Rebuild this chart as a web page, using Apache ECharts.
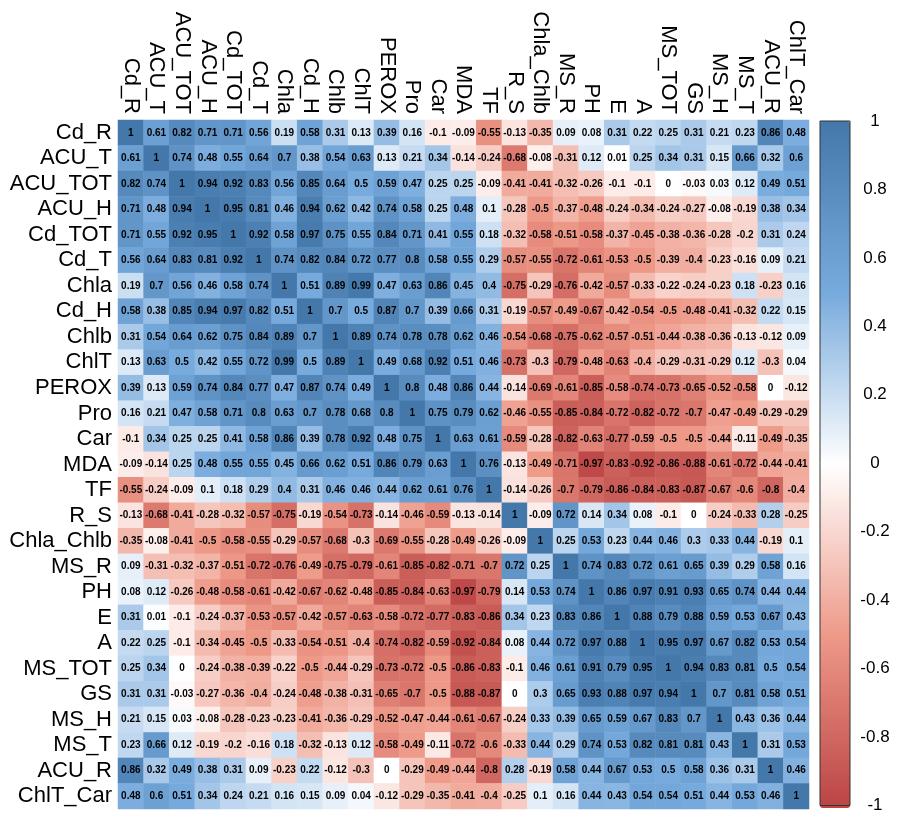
<!DOCTYPE html>
<html>
<head>
<meta charset="utf-8">
<script src="https://cdn.jsdelivr.net/npm/echarts@6/dist/echarts.min.js"></script>
<style>
  html, body { margin: 0; padding: 0; background: #fff; }
  #chart { width: 897px; height: 814px; }
</style>
</head>
<body>
<div id="chart"></div>
<script>
// Variable names (rows and columns share the same order)
const variables = ['Cd_R', 'ACU_T', 'ACU_TOT', 'ACU_H', 'Cd_TOT', 'Cd_T', 'Chla', 'Cd_H', 'Chlb', 'ChlT',
  'PEROX', 'Pro', 'Car', 'MDA', 'TF', 'R_S', 'Chla_Chlb', 'MS_R', 'PH', 'E', 'A', 'MS_TOT', 'GS',
  'MS_H', 'MS_T', 'ACU_R', 'ChlT_Car'];

// Correlation coefficients, one row per variable
const rowCdR     = [1, 0.61, 0.82, 0.71, 0.71, 0.56, 0.19, 0.58, 0.31, 0.13, 0.39, 0.16, -0.1, -0.09, -0.55, -0.13, -0.35, 0.09, 0.08, 0.31, 0.22, 0.25, 0.31, 0.21, 0.23, 0.86, 0.48];
const rowAcuT    = [0.61, 1, 0.74, 0.48, 0.55, 0.64, 0.7, 0.38, 0.54, 0.63, 0.13, 0.21, 0.34, -0.14, -0.24, -0.68, -0.08, -0.31, 0.12, 0.01, 0.25, 0.34, 0.31, 0.15, 0.66, 0.32, 0.6];
const rowAcuTot  = [0.82, 0.74, 1, 0.94, 0.92, 0.83, 0.56, 0.85, 0.64, 0.5, 0.59, 0.47, 0.25, 0.25, -0.09, -0.41, -0.41, -0.32, -0.26, -0.1, -0.1, 0, -0.03, 0.03, 0.12, 0.49, 0.51];
const rowAcuH    = [0.71, 0.48, 0.94, 1, 0.95, 0.81, 0.46, 0.94, 0.62, 0.42, 0.74, 0.58, 0.25, 0.48, 0.1, -0.28, -0.5, -0.37, -0.48, -0.24, -0.34, -0.24, -0.27, -0.08, -0.19, 0.38, 0.34];
const rowCdTot   = [0.71, 0.55, 0.92, 0.95, 1, 0.92, 0.58, 0.97, 0.75, 0.55, 0.84, 0.71, 0.41, 0.55, 0.18, -0.32, -0.58, -0.51, -0.58, -0.37, -0.45, -0.38, -0.36, -0.28, -0.2, 0.31, 0.24];
const rowCdT     = [0.56, 0.64, 0.83, 0.81, 0.92, 1, 0.74, 0.82, 0.84, 0.72, 0.77, 0.8, 0.58, 0.55, 0.29, -0.57, -0.55, -0.72, -0.61, -0.53, -0.5, -0.39, -0.4, -0.23, -0.16, 0.09, 0.21];
const rowChla    = [0.19, 0.7, 0.56, 0.46, 0.58, 0.74, 1, 0.51, 0.89, 0.99, 0.47, 0.63, 0.86, 0.45, 0.4, -0.75, -0.29, -0.76, -0.42, -0.57, -0.33, -0.22, -0.24, -0.23, 0.18, -0.23, 0.16];
const rowCdH     = [0.58, 0.38, 0.85, 0.94, 0.97, 0.82, 0.51, 1, 0.7, 0.5, 0.87, 0.7, 0.39, 0.66, 0.31, -0.19, -0.57, -0.49, -0.67, -0.42, -0.54, -0.5, -0.48, -0.41, -0.32, 0.22, 0.15];
const rowChlb    = [0.31, 0.54, 0.64, 0.62, 0.75, 0.84, 0.89, 0.7, 1, 0.89, 0.74, 0.78, 0.78, 0.62, 0.46, -0.54, -0.68, -0.75, -0.62, -0.57, -0.51, -0.44, -0.38, -0.36, -0.13, -0.12, 0.09];
const rowChlT    = [0.13, 0.63, 0.5, 0.42, 0.55, 0.72, 0.99, 0.5, 0.89, 1, 0.49, 0.68, 0.92, 0.51, 0.46, -0.73, -0.3, -0.79, -0.48, -0.63, -0.4, -0.29, -0.31, -0.29, 0.12, -0.3, 0.04];
const rowPerox   = [0.39, 0.13, 0.59, 0.74, 0.84, 0.77, 0.47, 0.87, 0.74, 0.49, 1, 0.8, 0.48, 0.86, 0.44, -0.14, -0.69, -0.61, -0.85, -0.58, -0.74, -0.73, -0.65, -0.52, -0.58, 0, -0.12];
const rowPro     = [0.16, 0.21, 0.47, 0.58, 0.71, 0.8, 0.63, 0.7, 0.78, 0.68, 0.8, 1, 0.75, 0.79, 0.62, -0.46, -0.55, -0.85, -0.84, -0.72, -0.82, -0.72, -0.7, -0.47, -0.49, -0.29, -0.29];
const rowCar     = [-0.1, 0.34, 0.25, 0.25, 0.41, 0.58, 0.86, 0.39, 0.78, 0.92, 0.48, 0.75, 1, 0.63, 0.61, -0.59, -0.28, -0.82, -0.63, -0.77, -0.59, -0.5, -0.5, -0.44, -0.11, -0.49, -0.35];
const rowMda     = [-0.09, -0.14, 0.25, 0.48, 0.55, 0.55, 0.45, 0.66, 0.62, 0.51, 0.86, 0.79, 0.63, 1, 0.76, -0.13, -0.49, -0.71, -0.97, -0.83, -0.92, -0.86, -0.88, -0.61, -0.72, -0.44, -0.41];
const rowTf      = [-0.55, -0.24, -0.09, 0.1, 0.18, 0.29, 0.4, 0.31, 0.46, 0.46, 0.44, 0.62, 0.61, 0.76, 1, -0.14, -0.26, -0.7, -0.79, -0.86, -0.84, -0.83, -0.87, -0.67, -0.6, -0.8, -0.4];
const rowRS      = [-0.13, -0.68, -0.41, -0.28, -0.32, -0.57, -0.75, -0.19, -0.54, -0.73, -0.14, -0.46, -0.59, -0.13, -0.14, 1, -0.09, 0.72, 0.14, 0.34, 0.08, -0.1, 0, -0.24, -0.33, 0.28, -0.25];
const rowChlaChlb= [-0.35, -0.08, -0.41, -0.5, -0.58, -0.55, -0.29, -0.57, -0.68, -0.3, -0.69, -0.55, -0.28, -0.49, -0.26, -0.09, 1, 0.25, 0.53, 0.23, 0.44, 0.46, 0.3, 0.33, 0.44, -0.19, 0.1];
const rowMsR     = [0.09, -0.31, -0.32, -0.37, -0.51, -0.72, -0.76, -0.49, -0.75, -0.79, -0.61, -0.85, -0.82, -0.71, -0.7, 0.72, 0.25, 1, 0.74, 0.83, 0.72, 0.61, 0.65, 0.39, 0.29, 0.58, 0.16];
const rowPh      = [0.08, 0.12, -0.26, -0.48, -0.58, -0.61, -0.42, -0.67, -0.62, -0.48, -0.85, -0.84, -0.63, -0.97, -0.79, 0.14, 0.53, 0.74, 1, 0.86, 0.97, 0.91, 0.93, 0.65, 0.74, 0.44, 0.44];
const rowE       = [0.31, 0.01, -0.1, -0.24, -0.37, -0.53, -0.57, -0.42, -0.57, -0.63, -0.58, -0.72, -0.77, -0.83, -0.86, 0.34, 0.23, 0.83, 0.86, 1, 0.88, 0.79, 0.88, 0.59, 0.53, 0.67, 0.43];
const rowA       = [0.22, 0.25, -0.1, -0.34, -0.45, -0.5, -0.33, -0.54, -0.51, -0.4, -0.74, -0.82, -0.59, -0.92, -0.84, 0.08, 0.44, 0.72, 0.97, 0.88, 1, 0.95, 0.97, 0.67, 0.82, 0.53, 0.54];
const rowMsTot   = [0.25, 0.34, 0, -0.24, -0.38, -0.39, -0.22, -0.5, -0.44, -0.29, -0.73, -0.72, -0.5, -0.86, -0.83, -0.1, 0.46, 0.61, 0.91, 0.79, 0.95, 1, 0.94, 0.83, 0.81, 0.5, 0.54];
const rowGs      = [0.31, 0.31, -0.03, -0.27, -0.36, -0.4, -0.24, -0.48, -0.38, -0.31, -0.65, -0.7, -0.5, -0.88, -0.87, 0, 0.3, 0.65, 0.93, 0.88, 0.97, 0.94, 1, 0.7, 0.81, 0.58, 0.51];
const rowMsH     = [0.21, 0.15, 0.03, -0.08, -0.28, -0.23, -0.23, -0.41, -0.36, -0.29, -0.52, -0.47, -0.44, -0.61, -0.67, -0.24, 0.33, 0.39, 0.65, 0.59, 0.67, 0.83, 0.7, 1, 0.43, 0.36, 0.44];
const rowMsT     = [0.23, 0.66, 0.12, -0.19, -0.2, -0.16, 0.18, -0.32, -0.13, 0.12, -0.58, -0.49, -0.11, -0.72, -0.6, -0.33, 0.44, 0.29, 0.74, 0.53, 0.82, 0.81, 0.81, 0.43, 1, 0.31, 0.53];
const rowAcuR    = [0.86, 0.32, 0.49, 0.38, 0.31, 0.09, -0.23, 0.22, -0.12, -0.3, 0, -0.29, -0.49, -0.44, -0.8, 0.28, -0.19, 0.58, 0.44, 0.67, 0.53, 0.5, 0.58, 0.36, 0.31, 1, 0.46];
const rowChlTCar = [0.48, 0.6, 0.51, 0.34, 0.24, 0.21, 0.16, 0.15, 0.09, 0.04, -0.12, -0.29, -0.35, -0.41, -0.4, -0.25, 0.1, 0.16, 0.44, 0.43, 0.54, 0.54, 0.51, 0.44, 0.53, 0.46, 1];

const rows = [rowCdR, rowAcuT, rowAcuTot, rowAcuH, rowCdTot, rowCdT, rowChla, rowCdH, rowChlb, rowChlT,
  rowPerox, rowPro, rowCar, rowMda, rowTf, rowRS, rowChlaChlb, rowMsR, rowPh, rowE, rowA, rowMsTot,
  rowGs, rowMsH, rowMsT, rowAcuR, rowChlTCar];

// Colour-bar tick values
const barTicks = [1, 0.8, 0.6, 0.4, 0.2, 0, -0.2, -0.4, -0.6, -0.8, -1];

// Diverging palette: -1 (red) .. 0 (white) .. 1 (blue)
const palette = ['#BB4444', '#EE9988', '#FFFFFF', '#77AADD', '#4477AA'];

const cells = [];
rows.forEach((row, r) => row.forEach((v, c) => cells.push([c, r, v])));

const labelFont = 'Liberation Sans, Arial, sans-serif';
const chart = echarts.init(document.getElementById('chart'), null, { renderer: 'canvas' });

chart.setOption({
  backgroundColor: '#ffffff',
  animation: false,
  grid: [
    { left: 118, top: 120, width: 691, height: 689 },
    { left: 820, top: 121, width: 30, height: 687, show: true, z: 10,
      backgroundColor: 'transparent', borderColor: '#333', borderWidth: 1 }
  ],
  xAxis: [
    {
      gridIndex: 0, type: 'category', data: variables, position: 'top',
      axisLine: { show: false }, axisTick: { show: false }, splitLine: { show: false },
      axisLabel: { interval: 0, rotate: 90, margin: 6, fontSize: 22, color: '#000', fontFamily: labelFont }
    },
    { gridIndex: 1, type: 'value', show: false, min: 0, max: 1 }
  ],
  yAxis: [
    {
      gridIndex: 0, type: 'category', data: variables, inverse: true,
      axisLine: { show: false }, axisTick: { show: false }, splitLine: { show: false },
      axisLabel: { interval: 0, margin: 6, fontSize: 22, color: '#000', fontFamily: labelFont }
    },
    {
      gridIndex: 1, type: 'value', min: -1, max: 1, interval: 0.2, position: 'right',
      axisLine: { show: false }, splitLine: { show: false },
      axisTick: { show: true, length: 5, inside: false, lineStyle: { color: '#333' } },
      axisLabel: {
        margin: 25, align: 'center', fontSize: 17, color: '#000', fontFamily: labelFont,
        formatter: v => {
          const t = barTicks.find(b => Math.abs(b - v) < 1e-6);
          return t === undefined ? '' : String(t);
        }
      }
    }
  ],
  visualMap: {
    type: 'continuous', min: -1, max: 1, seriesIndex: 0,
    orient: 'vertical', left: 820, top: 121, padding: 0,
    itemWidth: 30, itemHeight: 687, calculable: false, text: null,
    showLabel: false, hoverLink: false,
    inRange: { color: palette }
  },
  series: [{
    type: 'heatmap', xAxisIndex: 0, yAxisIndex: 0, data: cells,
    label: {
      show: true, fontSize: 10, fontWeight: 'bold', color: '#000', fontFamily: labelFont,
      formatter: p => String(p.value[2])
    },
    itemStyle: { borderWidth: 0 },
    emphasis: { disabled: true }
  }]
});
</script>
</body>
</html>
